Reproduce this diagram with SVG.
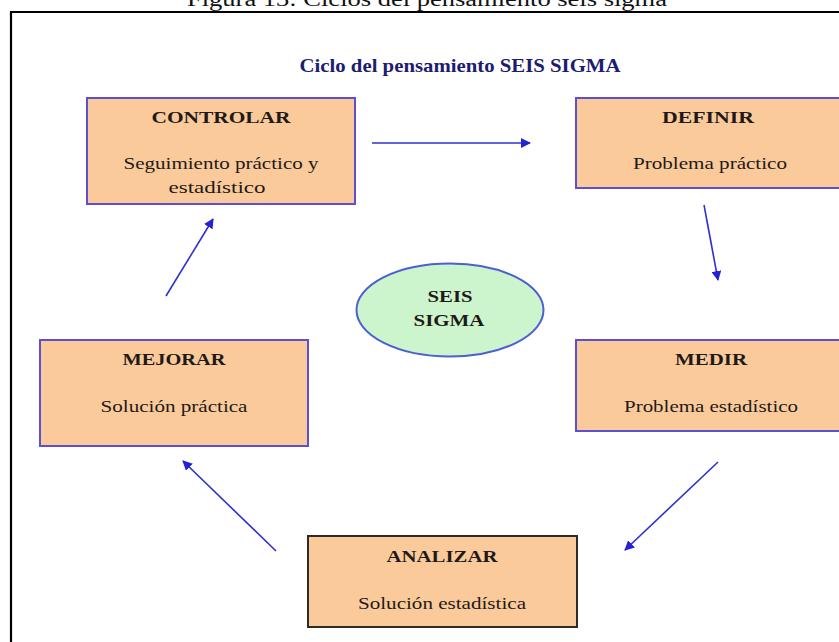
<svg xmlns="http://www.w3.org/2000/svg" width="839" height="642" viewBox="0 0 839 642">
  <defs>
    <marker id="arrow" viewBox="0 0 10 10" refX="9" refY="5" markerWidth="10" markerHeight="10" markerUnits="userSpaceOnUse" orient="auto">
      <path d="M0,0 L10,5 L0,10 z" fill="#2323d6"/>
    </marker>
    <style>
      .box { fill: #fbca9b; stroke: #5c50d2; stroke-width: 2; }
      .box-dark { fill: #fbca9b; stroke: #2e2a2a; stroke-width: 2; }
      .head { font-family: "Liberation Serif", "Times New Roman", serif; font-weight: bold; font-size: 17px; fill: #1e1a18; text-anchor: middle; }
      .body { font-family: "Liberation Serif", "Times New Roman", serif; font-size: 17px; fill: #1e1a18; text-anchor: middle; }
      .link { stroke: #2f2fd0; stroke-width: 1.6; fill: none; marker-end: url(#arrow); }
    </style>
  </defs>

  <rect width="839" height="642" fill="#ffffff"/>

  <!-- figure caption, clipped at the page top -->
  <text x="427" y="6" font-family="Liberation Serif, Times New Roman, serif" font-size="20" fill="#111" text-anchor="middle" textLength="480" lengthAdjust="spacingAndGlyphs">Figura 13: Ciclos del pensamiento seis sigma</text>

  <!-- frame -->
  <path d="M11,642 L11,12 L839,12" fill="none" stroke="#000" stroke-width="2.2"/>

  <!-- title -->
  <text x="460" y="72" font-family="Liberation Serif, Times New Roman, serif" font-weight="bold" font-size="19" fill="#1c1c72" text-anchor="middle" textLength="321" lengthAdjust="spacingAndGlyphs">Ciclo del pensamiento SEIS SIGMA</text>

  <g id="controlar">
    <rect class="box" x="87" y="98" width="268" height="106"/>
    <text class="head" x="221" y="123" textLength="139" lengthAdjust="spacingAndGlyphs">CONTROLAR</text>
    <text class="body" x="221" y="169" textLength="195" lengthAdjust="spacingAndGlyphs">Seguimiento práctico y</text>
    <text class="body" x="217" y="193" textLength="97" lengthAdjust="spacingAndGlyphs">estadístico</text>
  </g>

  <g id="definir">
    <rect class="box" x="576" y="98" width="270" height="90"/>
    <text class="head" x="708" y="123" textLength="92" lengthAdjust="spacingAndGlyphs">DEFINIR</text>
    <text class="body" x="710" y="169" textLength="154" lengthAdjust="spacingAndGlyphs">Problema práctico</text>
  </g>

  <g id="seis-sigma">
    <ellipse cx="450" cy="310" rx="93.5" ry="46.5" fill="#cdf5cd" stroke="#4d5fd1" stroke-width="2"/>
    <text class="head" x="450" y="302" fill="#1a2a1a" textLength="45" lengthAdjust="spacingAndGlyphs">SEIS</text>
    <text class="head" x="449" y="326" fill="#1a2a1a" textLength="71" lengthAdjust="spacingAndGlyphs">SIGMA</text>
  </g>

  <g id="mejorar">
    <rect class="box" x="40" y="340" width="268" height="106"/>
    <text class="head" x="174" y="365" textLength="103" lengthAdjust="spacingAndGlyphs">MEJORAR</text>
    <text class="body" x="174" y="412" textLength="147" lengthAdjust="spacingAndGlyphs">Solución práctica</text>
  </g>

  <g id="medir">
    <rect class="box" x="576" y="340" width="270" height="91"/>
    <text class="head" x="711" y="365" textLength="72" lengthAdjust="spacingAndGlyphs">MEDIR</text>
    <text class="body" x="711" y="412" textLength="174" lengthAdjust="spacingAndGlyphs">Problema estadístico</text>
  </g>

  <g id="analizar">
    <rect class="box-dark" x="308" y="536" width="269" height="91"/>
    <text class="head" x="442" y="562" textLength="111" lengthAdjust="spacingAndGlyphs">ANALIZAR</text>
    <text class="body" x="442" y="609" textLength="168" lengthAdjust="spacingAndGlyphs">Solución estadística</text>
  </g>

  <g id="connectors">
    <line class="link" x1="372" y1="143" x2="530" y2="143"/>
    <line class="link" x1="704" y1="205" x2="718" y2="280"/>
    <line class="link" x1="718" y1="462" x2="625" y2="550"/>
    <line class="link" x1="276" y1="551" x2="183" y2="461"/>
    <line class="link" x1="166" y1="296" x2="213" y2="219"/>
  </g>
</svg>
